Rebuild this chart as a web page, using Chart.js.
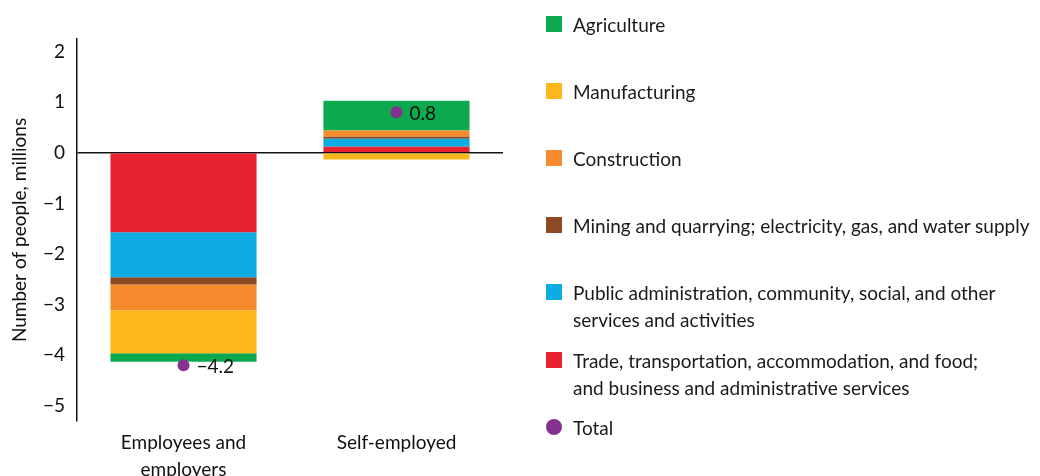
<!DOCTYPE html>
<html>
<head>
<meta charset="utf-8">
<script src="https://cdn.jsdelivr.net/npm/chart.js@4"></script>
<style>
  body { margin: 0; background: #fff; font-family: Lato, "Noto Sans", sans-serif; }
  #wrap { position: relative; width: 1040px; height: 476px; overflow: hidden; }
  #legend { position: absolute; left: 546px; top: 0; width: 494px; height: 476px; }
  .item { position: absolute; left: 0; font-size: 19px; line-height: 27px; color: #1a1a1a; white-space: pre; }
  .item .box { position: absolute; left: 0; top: 5px; width: 16px; height: 16px; }
  .item .txt { margin-left: 27px; }
</style>
</head>
<body>
<div id="wrap">
  <canvas id="chart"></canvas>
  <div id="legend"></div>
</div>
<script>
// categories and y tick labels
const categories = [["Employees and", "employers"], "Self-employed"];
const yTicks = [2, 1, 0, -1, -2, -3, -4, -5];

// millions of people, by sector
const trade = [-1.57, 0.12];
const publicAdmin = [-0.89, 0.16];
const mining = [-0.14, 0.04];
const construction = [-0.51, 0.12];
const manufacturing = [-0.85, -0.13];
const agriculture = [-0.17, 0.59];
const totals = [-4.2, 0.8];

const fmt = v => v.toFixed(1).replace("-", "\u2212");

const barSets = [
  { label: "Trade, transportation, accommodation, and food;\nand business and administrative services", data: trade, backgroundColor: "#e92230" },
  { label: "Public administration, community, social, and other\nservices and activities", data: publicAdmin, backgroundColor: "#0cace2" },
  { label: "Mining and quarrying; electricity, gas, and water supply", data: mining, backgroundColor: "#8b4a22" },
  { label: "Construction", data: construction, backgroundColor: "#f68b2e" },
  { label: "Manufacturing", data: manufacturing, backgroundColor: "#fdb71a" },
  { label: "Agriculture", data: agriculture, backgroundColor: "#0da94e" }
];

const datasets = barSets.map(d => Object.assign({ borderWidth: 0, barPercentage: 0.686, categoryPercentage: 1 }, d));
datasets.push({
  type: "line", label: "Total", data: totals, stack: "total", showLine: false, order: -1,
  pointRadius: 6, pointHoverRadius: 6, pointBackgroundColor: "#86318f", pointBorderWidth: 0
});

// value labels next to the total dots
const totalLabels = {
  id: "totalLabels",
  afterDatasetsDraw(chart) {
    const ctx = chart.ctx;
    const idx = chart.data.datasets.length - 1;
    const meta = chart.getDatasetMeta(idx);
    ctx.save();
    ctx.font = "19px Lato, 'Noto Sans', sans-serif";
    ctx.fillStyle = "#111";
    ctx.textAlign = "left";
    ctx.textBaseline = "middle";
    meta.data.forEach((pt, i) => {
      ctx.fillText(fmt(chart.data.datasets[idx].data[i]), pt.x + 13, pt.y + 2);
    });
    ctx.restore();
  }
};

const chart = new Chart(document.getElementById("chart"), {
  type: "bar",
  data: { labels: categories, datasets: datasets },
  options: {
    responsive: true,
    maintainAspectRatio: false,
    animation: false,
    layout: { padding: { top: 39, right: 537, left: 0, bottom: 0 } },
    plugins: { legend: { display: false }, tooltip: { enabled: false } },
    scales: {
      x: {
        stacked: true,
        grid: { display: false },
        border: { display: false },
        afterFit: s => { s.height = 55; },
        ticks: { color: "#111", padding: 1, font: { family: "Lato", size: 19, lineHeight: 1.4 } }
      },
      y: {
        stacked: true,
        min: -5.3,
        max: 2.25,
        afterFit: s => { s.width = 77; },
        afterBuildTicks: s => { s.ticks = yTicks.map(v => ({ value: v })); },
        border: { display: true, color: "#111", width: 1.5 },
        grid: {
          drawTicks: false,
          lineWidth: 1.5,
          color: c => (c.tick && c.tick.value === 0 ? "#111" : "rgba(0,0,0,0)")
        },
        ticks: { color: "#111", padding: 12, font: { family: "Lato", size: 19 }, callback: v => fmt(v).replace(".0", "") },
        title: { display: true, text: "Number of people, millions", color: "#111", padding: { top: 8, bottom: 0 }, font: { family: "Lato", size: 19 } }
      }
    }
  },
  plugins: [totalLabels]
});

// legend on the right, built from the datasets
const legend = document.getElementById("legend");
const order = chart.data.datasets.slice(0, barSets.length).reverse().concat(chart.data.datasets.slice(barSets.length));
order.forEach((ds, i) => {
  const item = document.createElement("div");
  item.className = "item";
  item.style.top = (24 + i * 67.2 - 13.5) + "px";
  const box = document.createElement("span");
  box.className = "box";
  if (ds.type === "line") {
    box.style.background = ds.pointBackgroundColor;
    box.style.borderRadius = "50%";
  } else {
    box.style.background = ds.backgroundColor;
  }
  const txt = document.createElement("div");
  txt.className = "txt";
  txt.textContent = ds.label;
  item.appendChild(box);
  item.appendChild(txt);
  legend.appendChild(item);
});
</script>
</body>
</html>
